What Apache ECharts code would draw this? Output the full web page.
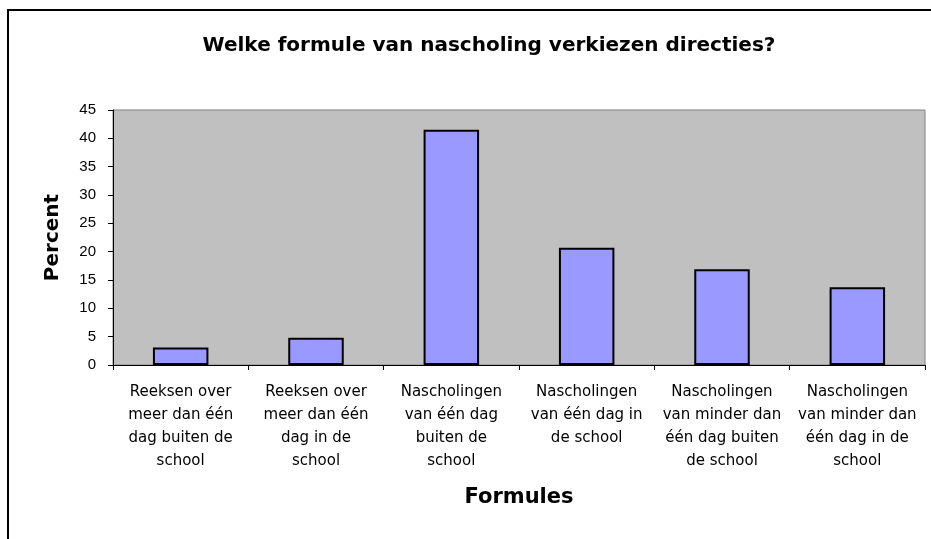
<!DOCTYPE html>
<html>
<head>
<meta charset="utf-8">
<script src="https://cdn.jsdelivr.net/npm/echarts@6/dist/echarts.min.js"></script>
<style>html,body{margin:0;padding:0;background:#fff;}#c{width:931px;height:539px;}</style>
</head>
<body>
<div id="c"></div>
<script>
const categories = [
  "Reeksen over\nmeer dan één\ndag buiten de\nschool",
  "Reeksen over\nmeer dan één\ndag in de\nschool",
  "Nascholingen\nvan één dag\nbuiten de\nschool",
  "Nascholingen\nvan één dag in\nde school",
  "Nascholingen\nvan minder dan\néén dag buiten\nde school",
  "Nascholingen\nvan minder dan\néén dag in de\nschool"
];
const percentValues = [3.1, 4.8, 41.5, 20.7, 16.9, 13.7];
const titleText = "Welke formule van nascholing verkiezen directies?";
const yName = "Percent";
const xName = "Formules";

const FONT = "'Liberation Sans', Arial, sans-serif";
const WIDE = "'DejaVu Sans', Verdana, sans-serif";
const chart = echarts.init(document.getElementById('c'));
chart.setOption({
  animation: false,
  backgroundColor: '#ffffff',
  title: {
    text: titleText,
    left: 484, top: 31,
    textAlign: 'center',
    textStyle: { fontFamily: WIDE, fontWeight: 'bold', fontSize: 20, color: '#000' }
  },
  graphic: [{
    type: 'rect', shape: { x: 8, y: 10, width: 1000, height: 600 },
    style: { fill: 'none', stroke: '#000', lineWidth: 2 }, silent: true, z: -1
  }],
  grid: {
    left: 113, right: 6, top: 110, bottom: 174,
    show: true, backgroundColor: '#C0C0C0', borderColor: '#808080', borderWidth: 1
  },
  xAxis: {
    type: 'category', data: categories,
    name: xName, nameLocation: 'middle', nameGap: 122,
    nameTextStyle: { fontFamily: WIDE, fontWeight: 'bold', fontSize: 21, color: '#000' },
    axisLine: { lineStyle: { color: '#000', width: 1 } },
    axisTick: { show: true, alignWithLabel: false, length: 5, lineStyle: { color: '#000' } },
    axisLabel: { interval: 0, margin: 16, fontFamily: WIDE, fontSize: 15, lineHeight: 23, color: '#000', align: 'center' },
    splitLine: { show: false }
  },
  yAxis: {
    type: 'value', min: 0, max: 45, interval: 5,
    name: yName, nameLocation: 'middle', nameGap: 50, nameRotate: 90,
    nameTextStyle: { fontFamily: WIDE, fontWeight: 'bold', fontSize: 20, color: '#000' },
    axisLine: { show: true, lineStyle: { color: '#000', width: 1 } },
    axisTick: { show: true, length: 5, lineStyle: { color: '#000' } },
    axisLabel: { margin: 17, fontFamily: FONT, fontSize: 15, color: '#000' },
    splitLine: { show: false }
  },
  series: [{
    type: 'bar', data: percentValues, barWidth: '41%',
    itemStyle: { color: '#9999FF', borderColor: '#000', borderWidth: 2 }
  }]
});
</script>
</body>
</html>
